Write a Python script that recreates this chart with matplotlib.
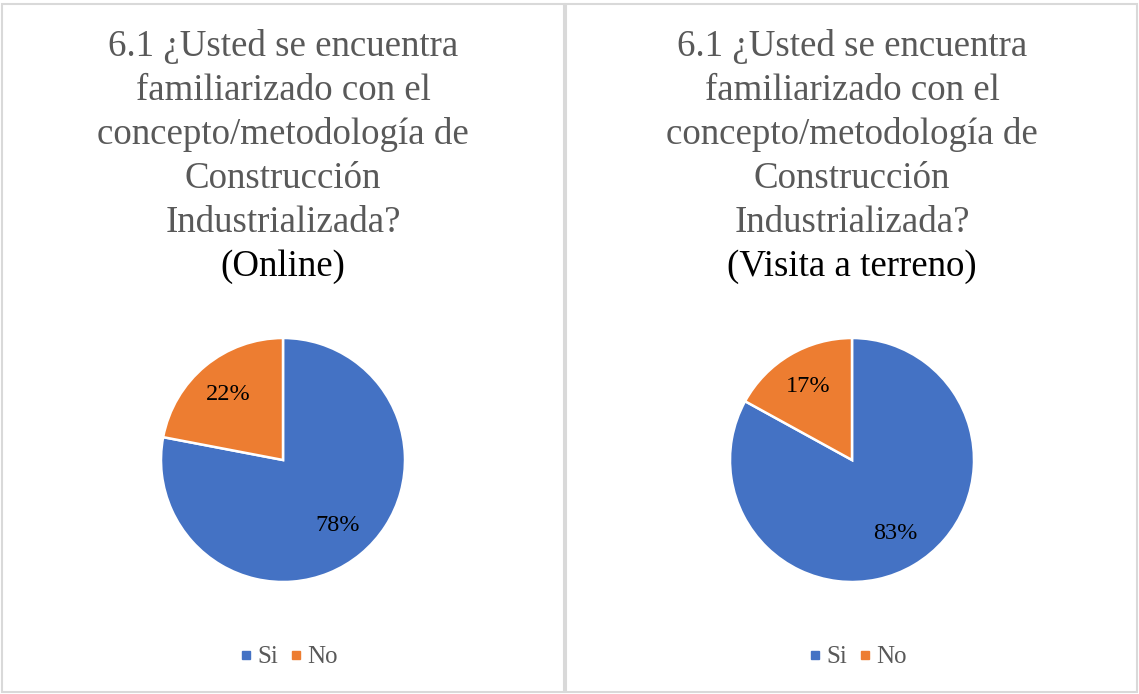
import matplotlib.pyplot as plt
from matplotlib.lines import Line2D
from matplotlib.patches import Rectangle

plt.rcParams['font.family'] = ['Liberation Serif', 'DejaVu Serif']

# respuestas a la pregunta 6.1
categories = ['Si', 'No']
online_pct = [78, 22]
terreno_pct = [83, 17]
title_lines = ['6.1 ¿Usted se encuentra', 'familiarizado con el',
               'concepto/metodología de', 'Construcción', 'Industrializada?']
subtitles = ['(Online)', '(Visita a terreno)']

colors = ['#4472C4', '#ED7D31']
W, H = 1139, 694

fig = plt.figure(figsize=(W / 100, H / 100), dpi=100)
fig.patch.set_facecolor('white')


def fx(px):
    return px / W


def fy(py):
    return 1 - py / H


def panel(x0, x1, cx, values, subtitle):
    # marco gris del gráfico
    fig.patches.append(Rectangle((fx(x0), fy(692)), fx(x1 - x0), (692 - 4) / H,
                                 transform=fig.transFigure, fill=False,
                                 edgecolor='#d9d9d9', linewidth=1.5))
    for i, line in enumerate(title_lines):
        fig.text(fx(cx), fy(56 + 44 * i), line, ha='center', va='baseline',
                 fontsize=26.6, color='#595959')
    fig.text(fx(cx), fy(276), subtitle, ha='center', va='baseline',
             fontsize=26.6, color='black')

    r = 122
    ax = fig.add_axes([fx(cx - r), fy(460 + r), fx(2 * r), 2 * r / H])
    ax.pie(values, colors=colors, startangle=90, counterclock=False,
           autopct='%1.0f%%', pctdistance=0.7,
           wedgeprops=dict(edgecolor='white', linewidth=1.8),
           textprops=dict(fontsize=17.5, color='black'))
    ax.set_xlim(-1.0, 1.0)
    ax.set_ylim(-1.0, 1.0)
    ax.set_aspect('equal')
    ax.axis('off')

    handles = [Line2D([], [], marker='s', linestyle='none', markersize=6,
                      color=c) for c in colors]
    fig.legend(handles, categories, loc='center', ncol=2,
               bbox_to_anchor=(fx(cx + 5), fy(657)), frameon=False,
               fontsize=18, labelcolor='#595959', handlelength=0.6,
               handletextpad=0.15, columnspacing=0.4)


panel(2, 564, 283, online_pct, subtitles[0])
panel(566, 1137, 852, terreno_pct, subtitles[1])

fig.savefig('out.png', dpi=100)
